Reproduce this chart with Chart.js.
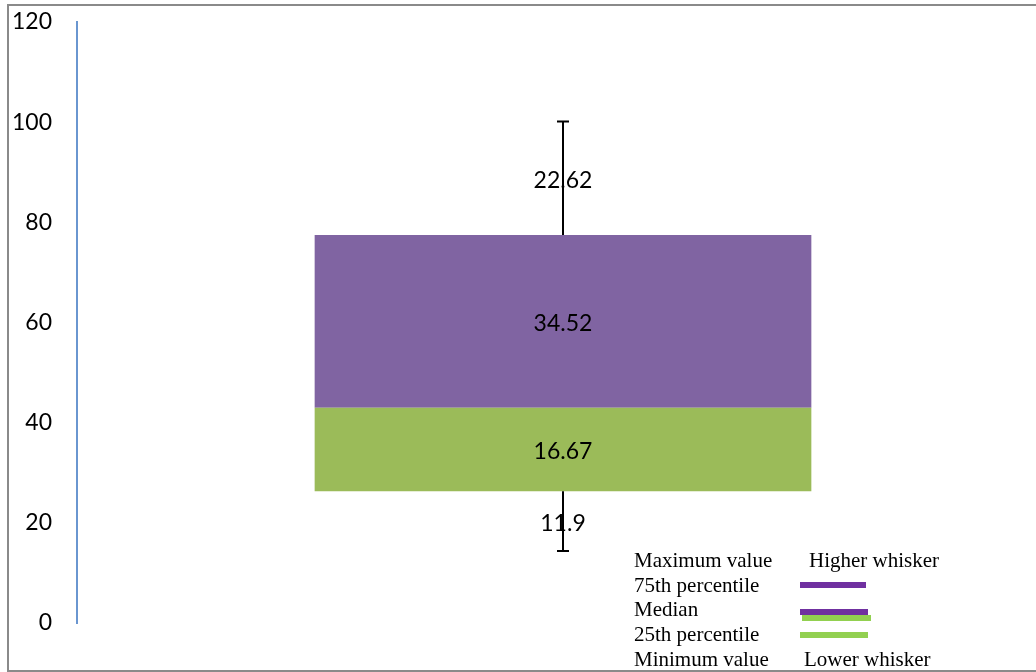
<!DOCTYPE html>
<html>
<head>
<meta charset="utf-8">
<script src="https://cdn.jsdelivr.net/npm/chart.js@4"></script>
<style>
  html, body { margin: 0; padding: 0; background: #fff; overflow: hidden; }
  #wrap { width: 1036px; height: 672px; overflow: hidden; position: relative; }
</style>
</head>
<body>
<div id="wrap"><canvas id="box-plot" width="1050" height="672"></canvas></div>
<script>
// box plot values
var categories = ["Values"];
var minimum = [14.4];
var lowerWhisker = [11.9];
var lowerBox = [16.67];
var upperBox = [34.52];
var upperWhisker = [22.62];
var yTicks = [0, 20, 40, 60, 80, 100, 120];

// invisible base of the stack = first quartile
var q1 = minimum.map(function (m, i) { return m + lowerWhisker[i]; });

var valueFont = "23px Lato";

// whiskers + value labels
var boxExtras = {
  id: "boxExtras",
  afterDatasetsDraw: function (chart) {
    var ctx = chart.ctx;
    var y = chart.scales.y;
    var bars = chart.getDatasetMeta(2).data;
    ctx.save();
    bars.forEach(function (bar, i) {
      var x = bar.x;
      var med = q1[i] + lowerBox[i];
      var q3 = med + upperBox[i];
      var max = q3 + upperWhisker[i];
      var min = q1[i] - lowerWhisker[i];
      ctx.strokeStyle = "#000";
      ctx.lineWidth = 2;
      ctx.beginPath();
      ctx.moveTo(x, y.getPixelForValue(q3));
      ctx.lineTo(x, y.getPixelForValue(max));
      ctx.moveTo(x - 6, y.getPixelForValue(max));
      ctx.lineTo(x + 6, y.getPixelForValue(max));
      ctx.moveTo(x, y.getPixelForValue(q1[i]));
      ctx.lineTo(x, y.getPixelForValue(min));
      ctx.moveTo(x - 6, y.getPixelForValue(min));
      ctx.lineTo(x + 6, y.getPixelForValue(min));
      ctx.stroke();

      // labels sit at the middle of each segment, nudged down a touch
      ctx.fillStyle = "#000";
      ctx.font = valueFont;
      ctx.textAlign = "center";
      ctx.textBaseline = "middle";
      ctx.fillText(String(upperWhisker[i]), x, y.getPixelForValue((q3 + max) / 2) + 2);
      ctx.fillText(String(upperBox[i]), x, y.getPixelForValue((med + q3) / 2) + 2);
      ctx.fillText(String(lowerBox[i]), x, y.getPixelForValue((q1[i] + med) / 2) + 2);
      ctx.fillText(String(lowerWhisker[i]), x, y.getPixelForValue((min + q1[i]) / 2) + 2);
    });
    ctx.restore();
  },
  afterDraw: function (chart) {
    var ctx = chart.ctx;
    ctx.save();
    // outer frame
    ctx.strokeStyle = "#8a8a8a";
    ctx.lineWidth = 2;
    ctx.strokeRect(8, 5, 1100, 666);

    // key in the lower right corner
    ctx.fillStyle = "#000";
    ctx.font = "21px 'Liberation Serif'";
    ctx.textAlign = "left";
    ctx.textBaseline = "middle";
    ctx.fillText("Maximum value", 634, 561);
    ctx.fillText("Higher whisker", 809, 561);
    ctx.fillText("75th percentile", 634, 586);
    ctx.fillText("Median", 634, 610);
    ctx.fillText("25th percentile", 634, 635);
    ctx.fillText("Minimum value", 634, 660);
    ctx.fillText("Lower whisker", 804, 660);

    ctx.fillStyle = "#7030a0";
    ctx.fillRect(800, 582, 66, 6);
    ctx.fillStyle = "#92d050";
    ctx.fillRect(802, 615, 69, 6);
    ctx.fillStyle = "#7030a0";
    ctx.fillRect(800, 609, 68, 6);
    ctx.fillStyle = "#92d050";
    ctx.fillRect(800, 632, 68, 6);
    ctx.restore();
  }
};

new Chart(document.getElementById("box-plot"), {
  type: "bar",
  data: {
    labels: categories,
    datasets: [
      { label: "base", data: q1, backgroundColor: "rgba(0,0,0,0)" },
      { label: "lower box", data: lowerBox, backgroundColor: "#9bbb59" },
      { label: "upper box", data: upperBox, backgroundColor: "#8064a2" }
    ]
  },
  options: {
    responsive: false,
    animation: false,
    barPercentage: 0.511,
    categoryPercentage: 1,
    layout: { padding: { left: 0, right: 1, top: 22, bottom: 49 } },
    plugins: {
      legend: { display: false },
      tooltip: { enabled: false }
    },
    scales: {
      x: { stacked: true, display: false },
      y: {
        stacked: true,
        min: 0,
        max: 120,
        afterFit: function (scale) { scale.width = 77; },
        afterBuildTicks: function (scale) {
          scale.ticks = yTicks.map(function (v) { return { value: v }; });
        },
        // tick marks hidden, their length only spaces the labels off the axis
        grid: { display: false, drawTicks: true, tickLength: 25 },
        border: { display: true, color: "#6a96d0", width: 2 },
        ticks: {
          padding: 0,
          color: "#000",
          font: { family: "Lato", size: 23 }
        }
      }
    }
  },
  plugins: [boxExtras]
});
</script>
</body>
</html>
